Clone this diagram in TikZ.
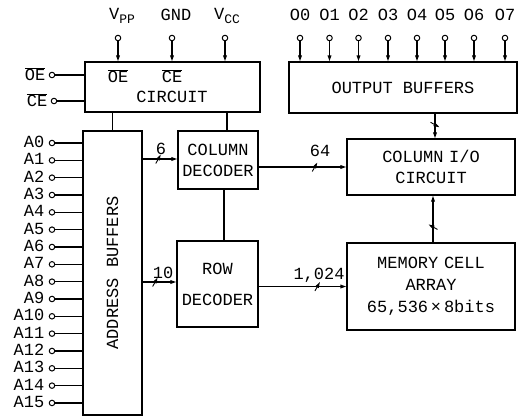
\documentclass[tikz,border=0pt]{standalone}
\usepackage{fontspec}
\setmainfont{Liberation Mono}
\usetikzlibrary{arrows.meta,decorations.markings}
\newcommand{\ovl}[1]{\ensuremath{\overline{\hbox{#1}}}}
\newcommand{\sbs}[1]{\raisebox{-3.5pt}{\fontsize{13}{13}\selectfont #1}}
\begin{document}
\begin{tikzpicture}[x=1pt,y=-1pt,line width=1.3pt,
  every node/.style={font=\fontsize{17}{19}\selectfont},
  blk/.style={draw,rectangle,inner sep=0pt,align=center},
  pin/.style={draw,circle,line width=1pt,minimum size=5.5pt,inner sep=0pt},
  txt/.style={inner sep=0pt},
  arr/.style={-{Triangle[length=6pt,width=3.6pt]}},
  slash/.style={postaction={decorate},decoration={markings,
     mark=at position #1 with {\draw[line width=0.9pt] (-2.5pt,-4.5pt)--(2.5pt,4.5pt);}}}
]
\useasboundingbox (0,0) rectangle (526,416);
% blocks
\node[blk,minimum width=175pt,minimum height=50pt] (circ) at (172.5,87) {};
\node[blk,minimum width=228pt,minimum height=51pt] (outbuf) at (403,87.5) {OUTPUT BUFFERS};
\node[blk,minimum width=59pt,minimum height=284pt] (abuf) at (112.5,273) {};
\node[txt,rotate=90] (abuftxt) at (abuf.center) {ADDRESS BUFFERS};
\node[blk,minimum width=80pt,minimum height=58pt,text width=80pt,align=center] (coldec) at (218,160) {COLUMN\\[2pt]DECODER};
\node[blk,minimum width=81pt,minimum height=86pt,text width=81pt,align=center] (rowdec) at (217.5,284) {ROW\\[12pt]DECODER};
\node[blk,minimum width=168pt,minimum height=56pt,text width=168pt,align=center] (colio) at (431,167) {COLUMN I/O\\[2pt]CIRCUIT};
\node[blk,minimum width=168pt,minimum height=87pt,text width=168pt,align=center] (mem) at (431,286.5) {MEMORY CELL\\[3pt]ARRAY\\[3pt]65,536\,×\,8bits};
% circuit inner text
\node[txt] (oein) at (118,76) {\ovl{OE}};
\node[txt] (cein) at (172,76) {\ovl{CE}};
\node[txt] (circtxt) at (172,97) {CIRCUIT};
% power pins
\node[pin] (pvpp) at (118,38) {};
\node[pin] (pgnd) at (172,38) {};
\node[pin] (pvcc) at (225,38) {};
\node[txt] (lvpp) at (122,16) {V\sbs{PP}};
\node[txt] (lgnd) at (176,15) {GND};
\node[txt] (lvcc) at (227,16) {V\sbs{CC}};
\draw[arr] (pvpp) -- (pvpp |- circ.north);
\draw[arr] (pgnd) -- (pgnd |- circ.north);
\draw[arr] (pvcc) -- (pvcc |- circ.north);
% OE CE pins
\node[pin] (poe) at (52,75) {};
\node[pin] (pce) at (54,101) {};
\node[txt,anchor=east] (loe) at (46,74) {\ovl{OE}};
\node[txt,anchor=east] (lce) at (48,100) {\ovl{CE}};
\draw (poe) -- (poe -| circ.west);
\draw (pce) -- (pce -| circ.west);
% output pins
\foreach \i/\x in {0/300,1/329.5,2/358.5,3/388,4/417,5/445,6/474,7/505}{
  \node[pin] (po\i) at (\x,38) {};
  \node[txt] (lo\i) at (\x,15) {O\i};
  \draw[arr] (po\i) -- (po\i |- outbuf.north);
}
% address pins
\foreach \i in {0,...,15}{
  \pgfmathsetmacro{\yy}{143+\i*17.33}
  \node[pin] (pa\i) at (52,\yy) {};
  \node[txt,anchor=east] (la\i) at (45,\yy-1) {A\i};
  \draw (pa\i) -- (pa\i -| abuf.west);
}
% connections
\draw (abuf.north) -- (abuf.north |- circ.south);
\draw ([xshift=9pt]coldec.north) -- ([xshift=9pt]coldec.north |- circ.south);
\draw ([xshift=6pt]coldec.south) -- ([xshift=6pt]coldec.south |- rowdec.north);
\draw[arr,slash=0.45] ([yshift=1pt]coldec.west -| abuf.east) -- ([yshift=1pt]coldec.west);
\node[txt] (l6) at (161,149) {6};
\draw[arr,slash=0.37] ([yshift=2pt]rowdec.west -| abuf.east) -- ([yshift=2pt]rowdec.west);
\node[txt] (l10) at (163,273) {10};
\draw[arr,slash=0.64] (coldec.east |- colio.west) -- (colio.west);
\node[txt] (l64) at (320,151) {64};
\draw[arr,slash=0.67] (rowdec.east |- mem.west) -- (mem.west);
\node[txt] (l1024) at (319,275) {1,024};
\draw[arr,slash=0.33] ([xshift=2pt]mem.north) -- ([xshift=2pt]colio.south);
\draw[arr,slash=0.45] ([xshift=4pt]outbuf.south -| colio.north) -- ([xshift=4pt]colio.north);
\end{tikzpicture}
\end{document}
